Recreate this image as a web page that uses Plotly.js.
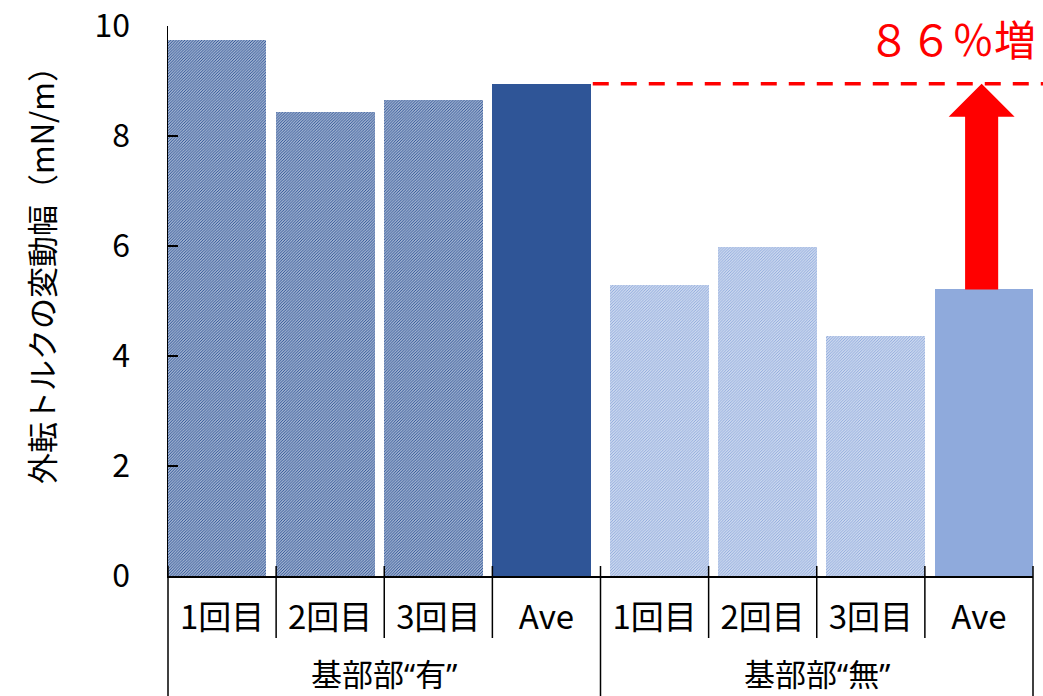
<!DOCTYPE html>
<html>
<head>
<meta charset="utf-8">
<script src="https://cdn.plot.ly/plotly-3.0.1.min.js"></script>
<style>
  html, body { margin: 0; padding: 0; background: #ffffff; }
  #chart { width: 1043px; height: 696px; }
</style>
</head>
<body>
<div id="chart"></div>
<script>
// Torque amplitude per trial, with and without the base part
const groupNames = ['基部部“有”', '基部部“無”'];
const trialLabels = ['1回目', '2回目', '3回目', 'Ave'];
const torqueWithBase = [9.75, 8.44, 8.65, 8.95];
const torqueWithoutBase = [5.29, 5.98, 4.36, 5.21];
const increaseText = '８６％増';
const yTickValues = [0, 2, 4, 6, 8, 10];
const yAxisTitle = '外転トルクの変動幅（mN/m）';

// Figure geometry
const W = 1043, H = 696;
const margin = { l: 168, r: 10, t: 26, b: 120 };
const plotW = W - margin.l - margin.r;
const plotH = H - margin.t - margin.b;
const perGroup = trialLabels.length;
const nCats = perGroup * groupNames.length;
const xRange = [-0.5, nCats - 0.5];
const yRange = [0, 10];
const barWidth = 0.91;

// data -> paper helpers
const px = v => (v - xRange[0]) / (xRange[1] - xRange[0]);
const py = v => (v - yRange[0]) / (yRange[1] - yRange[0]);
const pxLen = p => p / plotW;
const pyLen = p => p / plotH;

const darkBlue = '#2F5597';
const lightBlue = '#8FAADC';
const red = '#FF0000';
const cjkFont = '"Noto Sans CJK JP", "Noto Sans", sans-serif';
const latinFirstFont = '"Noto Sans", "Noto Sans CJK JP", sans-serif';

// first group sits at the left of each slot, second group at the right
const groupOffset = gi => (gi === 0 ? -0.5 : 0.5 - barWidth);

function groupTrace(values, gi, color) {
  const x = values.map((_, i) => gi * perGroup + i);
  return {
    type: 'bar',
    x: x,
    y: values,
    width: barWidth,
    offset: groupOffset(gi),
    marker: {
      color: color,
      line: { width: 0 },
      pattern: {
        shape: values.map((_, i) => (i < values.length - 1 ? '/' : '')),
        size: 2,
        solidity: 0.62,
        fgcolor: color,
        bgcolor: '#ffffff',
        fillmode: 'replace'
      }
    },
    hoverinfo: 'skip',
    showlegend: false
  };
}

const traces = [
  groupTrace(torqueWithBase, 0, darkBlue),
  groupTrace(torqueWithoutBase, 1, lightBlue)
];

// category separators below the axis (long ones at group edges)
const shapes = [];
for (let b = 0; b <= nCats; b++) {
  const xb = px(b - 0.5);
  const groupEdge = b % perGroup === 0;
  shapes.push({
    type: 'line', xref: 'paper', yref: 'paper',
    x0: xb, x1: xb,
    y0: pyLen(10),
    y1: groupEdge ? -margin.b / plotH : -pyLen(62),
    line: { color: '#000000', width: 1.5 }
  });
}

// dashed reference line at the "with base" average
const aveWith = torqueWithBase[perGroup - 1];
const aveWithout = torqueWithoutBase[perGroup - 1];
const aveWithRight = (perGroup - 1) + groupOffset(0) + barWidth;
shapes.push({
  type: 'line', xref: 'paper', yref: 'paper',
  x0: px(aveWithRight) + pxLen(2), x1: (W - margin.l) / plotW,
  y0: py(aveWith), y1: py(aveWith),
  line: { color: red, width: 3.5, dash: '16px,12px' }
});

// block arrow from the "without base" average up to the reference line
const arrowX = (nCats - 1) + groupOffset(1) + barWidth / 2 - 0.02;
const shaftHalf = 0.153;
const headHalf = 0.305;
const headLen = 0.6;
const headBase = aveWith - headLen;
const arrowPts = [
  [arrowX - shaftHalf, aveWithout],
  [arrowX - shaftHalf, headBase],
  [arrowX - headHalf, headBase],
  [arrowX, aveWith],
  [arrowX + headHalf, headBase],
  [arrowX + shaftHalf, headBase],
  [arrowX + shaftHalf, aveWithout]
];
shapes.push({
  type: 'path', xref: 'paper', yref: 'paper',
  path: 'M' + arrowPts.map(p => px(p[0]) + ',' + py(p[1])).join('L') + 'Z',
  fillcolor: red,
  line: { width: 0 }
});

const annotations = [
  {
    text: yAxisTitle, textangle: -90,
    xref: 'paper', yref: 'paper',
    x: pxLen(40 - margin.l), y: 0.56,
    xanchor: 'center', yanchor: 'middle', showarrow: false,
    font: { family: cjkFont, size: 31, color: '#000000' }
  },
  {
    text: increaseText,
    xref: 'paper', yref: 'paper',
    x: pxLen(952 - margin.l), y: py(aveWith) + pyLen(46),
    xanchor: 'center', yanchor: 'middle', showarrow: false,
    font: { family: cjkFont, size: 42, color: red }
  }
];
groupNames.forEach((name, gi) => {
  annotations.push({
    text: name,
    xref: 'x', yref: 'paper',
    x: gi * perGroup + (perGroup - 1) / 2,
    y: -pyLen(98),
    xanchor: 'center', yanchor: 'middle', showarrow: false,
    font: { family: latinFirstFont, size: 31, color: '#000000' }
  });
});

const layout = {
  width: W, height: H,
  margin: margin,
  paper_bgcolor: '#ffffff',
  plot_bgcolor: '#ffffff',
  showlegend: false,
  bargap: 0,
  xaxis: {
    range: xRange,
    tickmode: 'array',
    tickvals: Array.from({ length: nCats }, (_, i) => i),
    ticktext: groupNames.flatMap(() => trialLabels),
    ticks: '',
    ticklabelstandoff: 12,
    showline: true, linecolor: '#000000', linewidth: 1.5,
    showgrid: false, zeroline: false,
    tickfont: { family: cjkFont, size: 33, color: '#000000' },
    fixedrange: true
  },
  yaxis: {
    range: yRange,
    tickmode: 'array',
    tickvals: yTickValues,
    ticks: 'inside', ticklen: 10, tickwidth: 1.5, tickcolor: '#000000',
    ticklabelstandoff: 30,
    ticklabeloverflow: 'allow',
    showline: true, linecolor: '#000000', linewidth: 1.5,
    showgrid: false, zeroline: false,
    tickfont: { family: cjkFont, size: 32, color: '#000000' },
    fixedrange: true
  },
  shapes: shapes,
  annotations: annotations
};

Plotly.newPlot('chart', traces, layout, { staticPlot: true, displayModeBar: false });
</script>
</body>
</html>
